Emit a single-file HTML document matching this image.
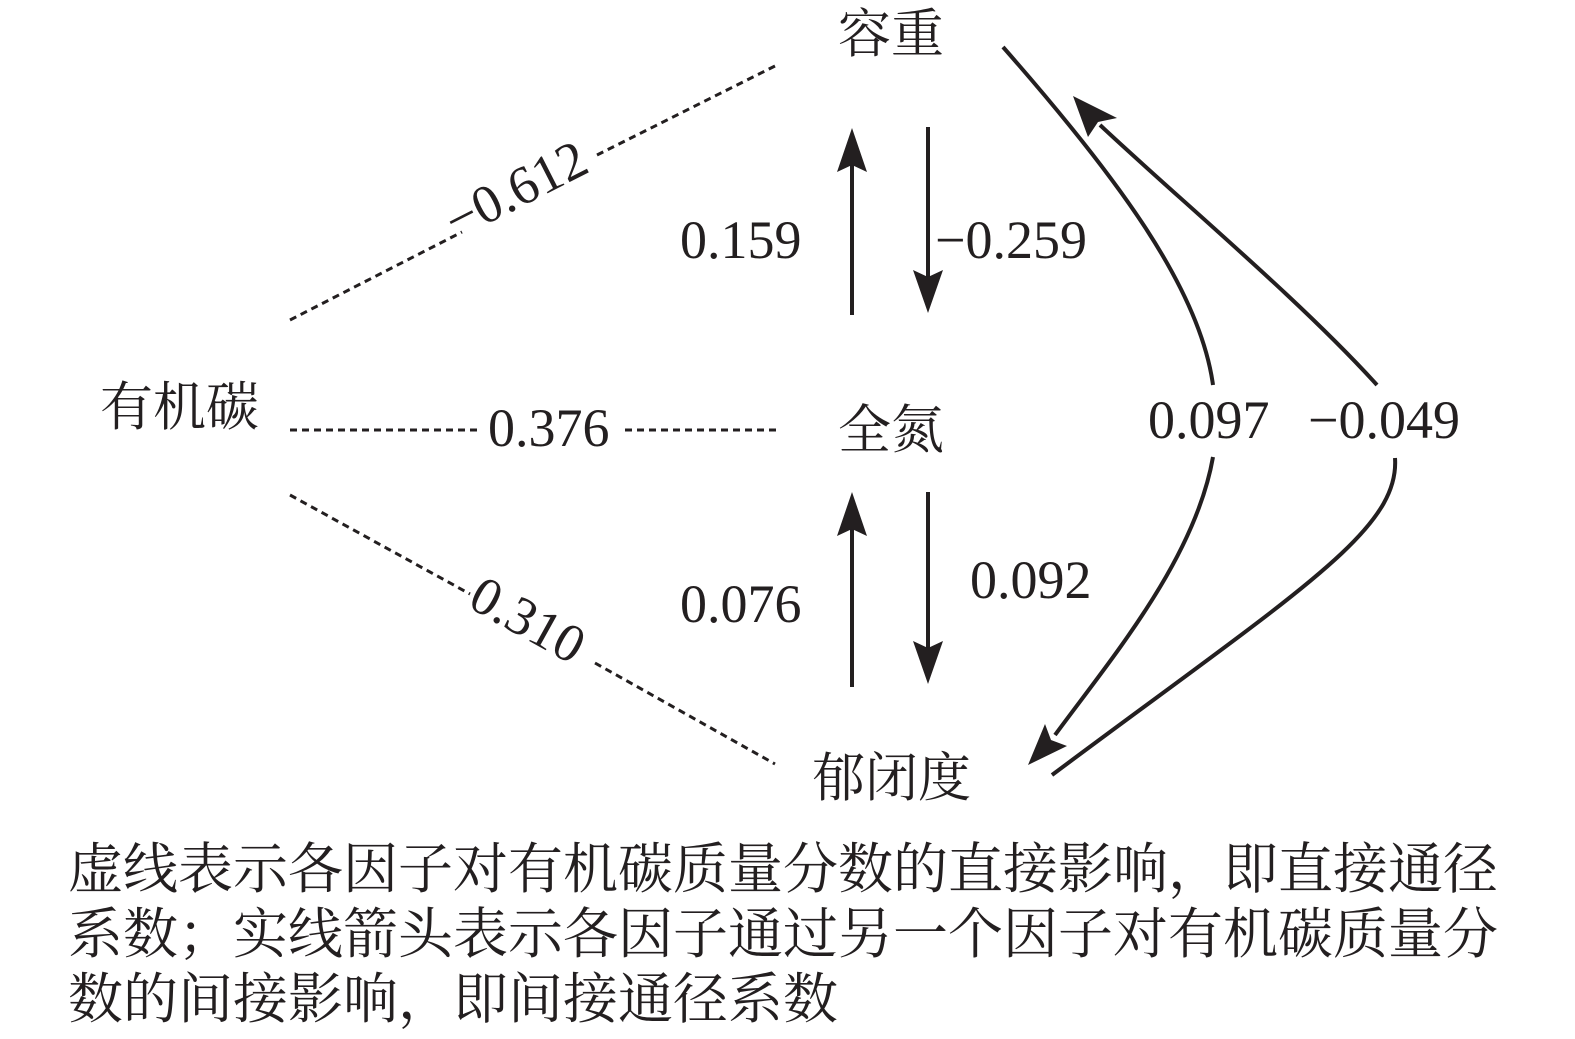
<!DOCTYPE html>
<html><head><meta charset="utf-8"><style>
html,body{margin:0;padding:0;background:#fff;}
svg{display:block;}
text{fill:#231f20;}
.n{font-family:"Liberation Serif",serif;font-size:54px;}
.c{font-family:"Liberation Sans","Noto Serif CJK SC",serif;font-size:53px;}
.cap{font-family:"Liberation Serif","Noto Serif CJK SC",serif;font-size:55px;}
</style></head><body>
<svg width="1575" height="1039" viewBox="0 0 1575 1039" xmlns="http://www.w3.org/2000/svg">
<g stroke="#231f20" stroke-width="3" fill="none" stroke-dasharray="7,5">
<line x1="290" y1="320" x2="462" y2="232"/>
<line x1="597" y1="155" x2="775" y2="66"/>
<line x1="290" y1="430" x2="478" y2="430"/>
<line x1="625" y1="430" x2="780" y2="430"/>
<line x1="290" y1="495" x2="470" y2="594"/>
<line x1="595" y1="663" x2="775" y2="764"/>
</g>
<g stroke="#231f20" stroke-width="4" fill="none">
<line x1="852" y1="315" x2="852" y2="160"/>
<line x1="928" y1="127" x2="928" y2="282"/>
<line x1="852" y1="687" x2="852" y2="525"/>
<line x1="928" y1="492" x2="928" y2="652"/>
<path d="M1003,47 C1120,180 1200,290 1213,385"/>
<path d="M1213,457 C1195,560 1110,660 1055,735"/>
<path d="M1377,385 C1300,300 1180,200 1100,125"/>
<path d="M1395,458 C1400,530 1300,590 1052,775"/>
</g>
<g fill="#231f20">
<polygon points="852,128 837,172 852,165 867,172"/>
<polygon points="928,313 913,270 928,277 943,270"/>
<polygon points="852,492 837,536 852,529 867,536"/>
<polygon points="928,684 913,641 928,648 943,641"/>
<polygon points="1073,96 1088,137 1098,122 1117,118"/>
<polygon points="1028,765 1045,724 1051,740 1067,746"/>
</g>
<text class="c" x="838" y="52">容重</text>
<text class="c" x="838" y="448">全氮</text>
<text class="c" x="812" y="796">郁闭度</text>
<text class="c" x="100" y="425">有机碳</text>
<text class="n" x="680" y="258">0.159</text>
<text class="n" x="935" y="258">−0.259</text>
<text class="n" x="680" y="622">0.076</text>
<text class="n" x="970" y="598">0.092</text>
<text class="n" x="488" y="446">0.376</text>
<text class="n" x="1148" y="438">0.097</text>
<text class="n" x="1308" y="438">−0.049</text>
<text class="n" transform="translate(456,240) rotate(-27)">−0.612</text>
<text class="n" transform="translate(466,606) rotate(29)">0.310</text>
<text class="cap" x="68" y="888">虚线表示各因子对有机碳质量分数的直接影响，即直接通径</text>
<text class="cap" x="68" y="953">系数；实线箭头表示各因子通过另一个因子对有机碳质量分</text>
<text class="cap" x="68" y="1018">数的间接影响，即间接通径系数</text>
</svg>
</body></html>
